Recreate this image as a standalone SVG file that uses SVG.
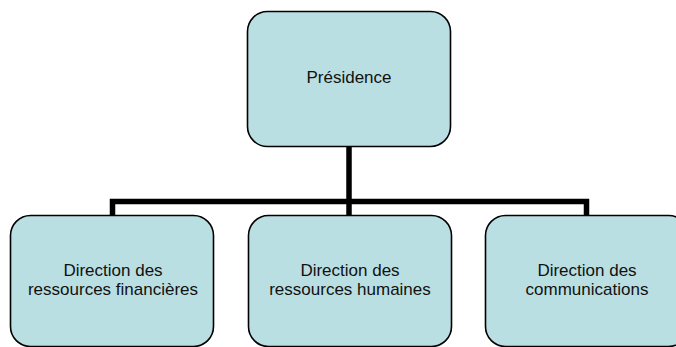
<svg xmlns="http://www.w3.org/2000/svg" width="676" height="347" viewBox="0 0 676 347">
<style>
.box{fill:#BADFE2;stroke:#000;stroke-width:1.6}
.lbl{font-family:"Liberation Sans",Arial,sans-serif;font-size:17px;fill:#111;text-anchor:middle}
.con{fill:none;stroke:#000;stroke-width:5.5;stroke-linecap:butt;stroke-linejoin:miter}
</style>
<rect width="676" height="347" fill="#fff"/>
<g id="connectors">
<path class="con" d="M349,146 V215"/>
<path class="con" d="M112.5,215 V201.5 H586.5 V215"/>
</g>
<g id="presidence">
<rect class="box" x="247.5" y="11.5" width="203" height="135" rx="20" ry="20"/>
<text class="lbl" x="349" y="83">Présidence</text>
</g>
<g id="finances">
<rect class="box" x="10.5" y="215.5" width="203" height="131" rx="20" ry="20"/>
<text class="lbl" x="113" y="275.5">Direction des</text>
<text class="lbl" x="113" y="295">ressources financières</text>
</g>
<g id="rh">
<rect class="box" x="248.5" y="215.5" width="203" height="131" rx="20" ry="20"/>
<text class="lbl" x="350" y="275.5">Direction des</text>
<text class="lbl" x="350" y="295">ressources humaines</text>
</g>
<g id="communications">
<rect class="box" x="485.5" y="215.5" width="203" height="131" rx="20" ry="20"/>
<text class="lbl" x="587" y="275.5">Direction des</text>
<text class="lbl" x="587" y="295">communications</text>
</g>
</svg>
